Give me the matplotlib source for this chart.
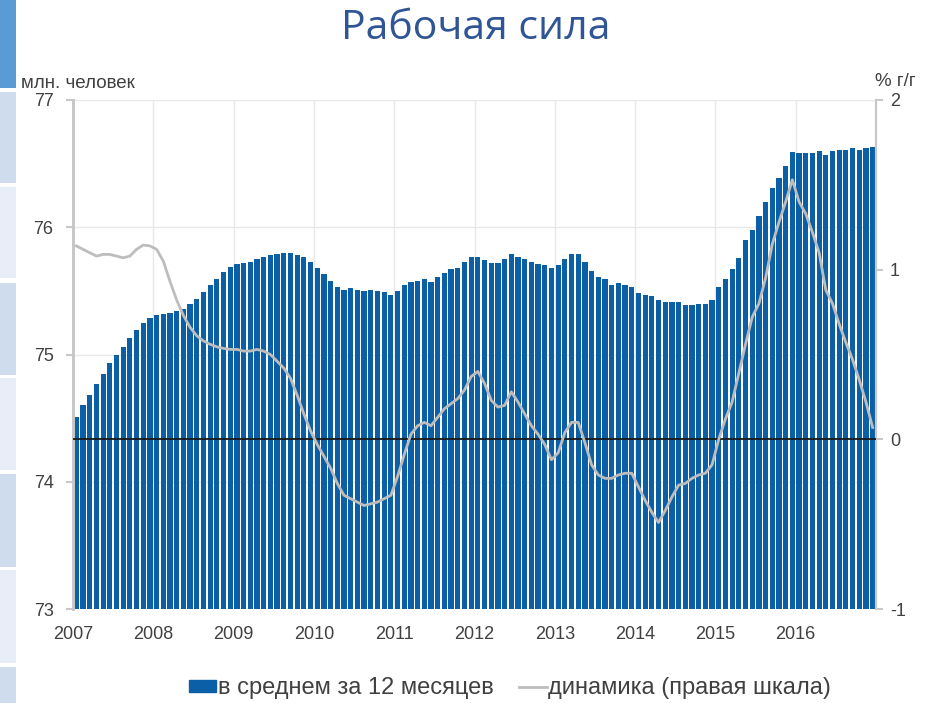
import matplotlib
matplotlib.use("Agg")
import numpy as np
import matplotlib.pyplot as plt
import matplotlib.patches as patches
from matplotlib.lines import Line2D

plt.rcParams["axes.unicode_minus"] = False

# ========================
# Data (monthly, Jan 2007 - Dec 2016)
# ========================
years = ["2007", "2008", "2009", "2010", "2011", "2012", "2013", "2014", "2015", "2016"]

# labour force, 12-month average, mln persons (left scale)
avg_12m = [
    74.51, 74.60, 74.68, 74.77, 74.85, 74.93, 75.00, 75.06, 75.13, 75.19, 75.25, 75.29,
    75.31, 75.32, 75.33, 75.34, 75.36, 75.40, 75.44, 75.49, 75.55, 75.59, 75.65, 75.69,
    75.71, 75.72, 75.73, 75.75, 75.77, 75.78, 75.79, 75.80, 75.80, 75.78, 75.77, 75.73,
    75.68, 75.63, 75.58, 75.53, 75.51, 75.52, 75.51, 75.50, 75.51, 75.50, 75.49, 75.47,
    75.50, 75.55, 75.57, 75.58, 75.59, 75.57, 75.61, 75.64, 75.67, 75.68, 75.73, 75.77,
    75.77, 75.74, 75.72, 75.72, 75.75, 75.79, 75.77, 75.75, 75.73, 75.71, 75.70, 75.68,
    75.70, 75.75, 75.79, 75.79, 75.73, 75.66, 75.61, 75.59, 75.55, 75.56, 75.55, 75.53,
    75.48, 75.47, 75.46, 75.43, 75.41, 75.41, 75.41, 75.39, 75.39, 75.40, 75.40, 75.43,
    75.53, 75.59, 75.67, 75.76, 75.90, 75.98, 76.09, 76.20, 76.31, 76.39, 76.48, 76.59,
    76.58, 76.58, 76.58, 76.60, 76.57, 76.60, 76.61, 76.61, 76.62, 76.61, 76.62, 76.63,
]

# year-on-year change, % (right scale)
yoy = [
    1.14, 1.12, 1.10, 1.08, 1.09, 1.09, 1.08, 1.07, 1.08, 1.12, 1.145, 1.14,
    1.12, 1.05, 0.93, 0.82, 0.73, 0.66, 0.61, 0.58, 0.56, 0.545, 0.536, 0.53,
    0.53, 0.52, 0.52, 0.53, 0.52, 0.50, 0.46, 0.42, 0.36, 0.26, 0.15, 0.05,
    -0.03, -0.10, -0.17, -0.26, -0.33, -0.35, -0.37, -0.39, -0.38, -0.37, -0.35, -0.33,
    -0.22, -0.09, 0.03, 0.08, 0.10, 0.08, 0.13, 0.18, 0.21, 0.24, 0.29, 0.37,
    0.40, 0.33, 0.23, 0.19, 0.20, 0.28, 0.22, 0.15, 0.08, 0.03, -0.03, -0.12,
    -0.08, 0.04, 0.10, 0.10, -0.02, -0.15, -0.21, -0.23, -0.23, -0.21, -0.20, -0.20,
    -0.28, -0.36, -0.43, -0.49, -0.42, -0.34, -0.27, -0.26, -0.23, -0.21, -0.20, -0.15,
    0.00, 0.12, 0.22, 0.39, 0.56, 0.72, 0.80, 0.95, 1.15, 1.28, 1.40, 1.53,
    1.40, 1.33, 1.22, 1.10, 0.88, 0.80, 0.68, 0.57, 0.47, 0.35, 0.22, 0.07,
]

BAR_COLOR = "#0B5FA6"
LINE_COLOR = "#BDBDBD"
TEXT_COLOR = "#404040"
FONT = ["Liberation Sans", "DejaVu Sans"]

W, H = 933, 703

fig = plt.figure(figsize=(W / 100, H / 100), dpi=100)

# ========================
# Slide decoration on the left edge
# ========================
strip = [  # (top px, bottom px, color)
    (0, 88, "#5B9BD5"),
    (92, 183, "#CFDCEE"),
    (187, 278, "#E8EEF7"),
    (283, 375, "#CFDCEE"),
    (378, 470, "#E8EEF7"),
    (474, 567, "#CFDCEE"),
    (570, 663, "#E8EEF7"),
    (667, 703, "#CFDCEE"),
]
for top, bot, c in strip:
    fig.add_artist(patches.Rectangle((0, 1 - bot / H), 16 / W, (bot - top) / H,
                                     transform=fig.transFigure, color=c, lw=0))

fig.text(476 / W, 1 - 29 / H, "Рабочая сила", ha="center", va="center",
         fontsize=29.5, color="#2F5597", family=["Open Sans", "DejaVu Sans"])

# ========================
# Axes
# ========================
L, R, T, B = 73, 876, 100, 609
ax = fig.add_axes([L / W, 1 - B / H, (R - L) / W, (B - T) / H])
ax2 = ax.twinx()

x = np.arange(len(avg_12m))
ax.bar(x, avg_12m, width=0.78, color=BAR_COLOR, zorder=2)
ax.set_xlim(-0.5, len(avg_12m) - 0.5)
ax.set_ylim(73, 77)
ax.set_yticks([73, 74, 75, 76, 77])

year_pos = np.arange(len(years)) * 12 - 0.5
ax.set_xticks(year_pos)
ax.set_xticklabels(years)
ax.grid(True, color="#E8E8E8", lw=1, zorder=0)
ax.set_axisbelow(True)

ax2.axhline(0, color="#1A1A1A", lw=1.3, zorder=3)
ax2.plot(x, yoy, color=LINE_COLOR, lw=2, zorder=4)
ax2.set_ylim(-1, 2)
ax2.set_yticks([-1, 0, 1, 2])

for a in (ax, ax2):
    for s in ("top", "bottom"):
        a.spines[s].set_visible(False)
    a.spines["left"].set_color("#C8C8C8")
    a.spines["right"].set_color("#C8C8C8")
    a.spines["left"].set_linewidth(2)
    a.spines["right"].set_linewidth(1.5)

ax.tick_params(axis="y", length=5, width=1.5, color="#C8C8C8", pad=9,
               labelsize=13, labelcolor=TEXT_COLOR)
ax2.tick_params(axis="y", length=5, width=1.5, color="#C8C8C8", pad=5,
                labelsize=13, labelcolor=TEXT_COLOR)
ax.tick_params(axis="x", length=0, pad=12, labelsize=13, labelcolor=TEXT_COLOR)
for lab in ax.get_xticklabels() + ax.get_yticklabels() + ax2.get_yticklabels():
    lab.set_family(FONT)

fig.text(21 / W, 1 - 83 / H, "млн. человек", ha="left", va="center",
         fontsize=13.5, color=TEXT_COLOR, family=FONT)
fig.text(916 / W, 1 - 81 / H, "% г/г", ha="right", va="center",
         fontsize=13.5, color=TEXT_COLOR, family=FONT)

# ========================
# Legend
# ========================
handles = [patches.Patch(color=BAR_COLOR),
           Line2D([0], [0], color=LINE_COLOR, lw=2)]
labels = ["в среднем за 12 месяцев", "динамика (правая шкала)"]
fig.legend(handles, labels, loc="center", bbox_to_anchor=(510 / W, 1 - 688 / H),
           ncol=2, frameon=False, handlelength=1.15, handleheight=0.4,
           handletextpad=0.08, columnspacing=1.1,
           prop={"family": FONT, "size": 17}, labelcolor=TEXT_COLOR)

fig.savefig("out.png", dpi=100)
